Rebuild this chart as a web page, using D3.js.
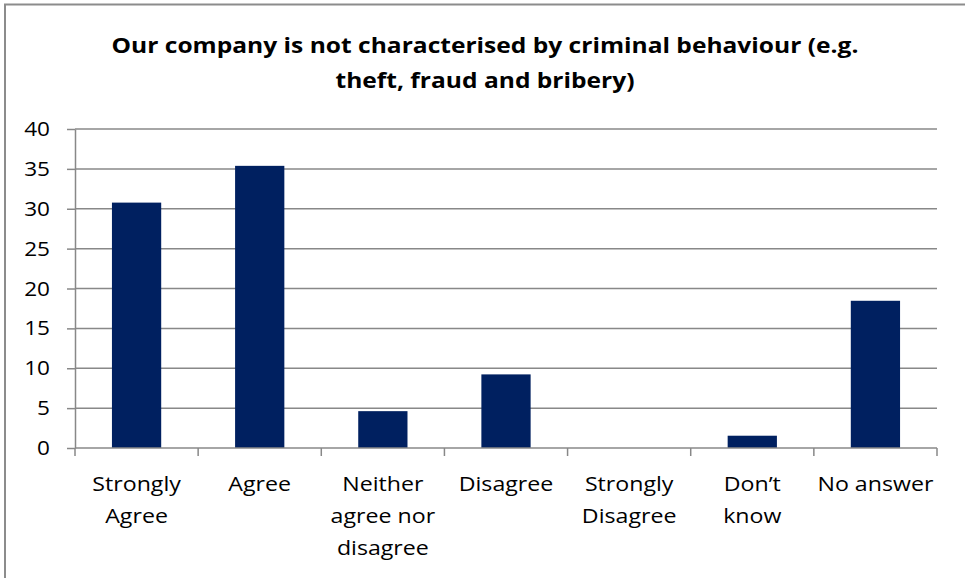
<!DOCTYPE html>
<html>
<head>
<meta charset="utf-8">
<script src="https://cdn.jsdelivr.net/npm/d3@7"></script>
<style>
  html, body { margin: 0; padding: 0; background: #fff; }
  svg { display: block; }
</style>
</head>
<body>
<svg id="chart" width="965" height="578"></svg>
<script>
// ---- data ----
const titleLines = ["Our company is not characterised by criminal behaviour (e.g.", "theft, fraud and bribery)"];
const categories = ["Strongly Agree", "Agree", "Neither agree nor disagree", "Disagree", "Strongly Disagree", "Don’t know", "No answer"];
const categoryLabelLines = [["Strongly", "Agree"], ["Agree"], ["Neither", "agree nor", "disagree"], ["Disagree"], ["Strongly", "Disagree"], ["Don’t", "know"], ["No answer"]];
const values = [30.77, 35.38, 4.62, 9.23, 0, 1.54, 18.46];
const yTicks = [0, 5, 10, 15, 20, 25, 30, 35, 40];

// ---- layout ----
const W = 965, H = 578;
const plot = { left: 75, right: 937, top: 129, bottom: 448 };
const gridColor = "#888888";
const barColor = "#002060";
const font = "'Open Sans', 'Liberation Sans', sans-serif";
const stretch = 1.13;       // reference text is horizontally wide (Calibri look)
const titleStretch = 1.17;

const svg = d3.select("#chart");

// stretched text helper: g at (x,y) scaled horizontally
function stretchedText(parent, x, y, str, opts) {
  const g = parent.append("g").attr("transform", `translate(${x},${y}) scale(${opts.sx},1)`);
  return g.append("text")
    .attr("x", 0).attr("y", 0)
    .attr("text-anchor", opts.anchor || "middle")
    .attr("dy", opts.dy || null)
    .attr("font-family", font)
    .attr("font-weight", opts.weight || "normal")
    .attr("font-size", opts.size)
    .attr("fill", "#000")
    .text(str);
}

// outer chart border (left and top visible)
svg.append("path")
  .attr("d", `M5,${H + 2} L5,4.5 L${W + 2},4.5`)
  .attr("fill", "none").attr("stroke", "#8c8c8c").attr("stroke-width", 2);

// title
const titleG = svg.append("g");
titleLines.forEach((t, i) => {
  stretchedText(titleG, 485, 53 + i * 35, t, { sx: titleStretch, size: 21, weight: "bold" });
});

const x = d3.scaleBand().domain(categories).range([plot.left, plot.right]).paddingInner(0).paddingOuter(0);
const y = d3.scaleLinear().domain([0, 40]).range([plot.bottom, plot.top]);

// gridlines
svg.append("g").selectAll("line").data(yTicks.filter(d => d > 0)).join("line")
  .attr("x1", plot.left).attr("x2", plot.right)
  .attr("y1", d => y(d)).attr("y2", d => y(d))
  .attr("stroke", gridColor).attr("stroke-width", 1.5);

// bars
const barW = x.bandwidth() * 0.4;
svg.append("g").selectAll("rect").data(values).join("rect")
  .attr("x", (d, i) => x(categories[i]) + (x.bandwidth() - barW) / 2)
  .attr("width", barW)
  .attr("y", d => y(d))
  .attr("height", d => y(0) - y(d))
  .attr("fill", barColor);

// y axis (line + ticks from d3 axis, labels stretched)
const yAxis = svg.append("g").attr("transform", `translate(${plot.left},0)`)
  .call(d3.axisLeft(y).tickValues(yTicks).tickSize(8).tickSizeOuter(0).tickFormat(""));
yAxis.select(".domain").attr("stroke", gridColor).attr("stroke-width", 1.5);
yAxis.selectAll(".tick line").attr("stroke", gridColor).attr("stroke-width", 1.5);
const yLab = svg.append("g");
yTicks.forEach(t => {
  stretchedText(yLab, 50, y(t), d3.format("d")(t), { sx: stretch, size: 20, anchor: "end", dy: "0.35em" });
});

// x axis line and boundary ticks
svg.append("line").attr("x1", plot.left).attr("x2", plot.right)
  .attr("y1", y(0)).attr("y2", y(0)).attr("stroke", gridColor).attr("stroke-width", 1.5);
const boundaries = categories.map(c => x(c)).concat([x(categories[categories.length - 1]) + x.bandwidth()]);
svg.append("g").selectAll("line").data(boundaries).join("line")
  .attr("x1", d => d).attr("x2", d => d)
  .attr("y1", y(0)).attr("y2", y(0) + 8)
  .attr("stroke", gridColor).attr("stroke-width", 1.5);

// x labels
const xLab = svg.append("g");
categories.forEach((c, i) => {
  const cx = x(c) + x.bandwidth() / 2;
  categoryLabelLines[i].forEach((ln, j) => {
    stretchedText(xLab, cx, 491 + j * 32, ln, { sx: stretch, size: 20.5 });
  });
});
</script>
</body>
</html>
